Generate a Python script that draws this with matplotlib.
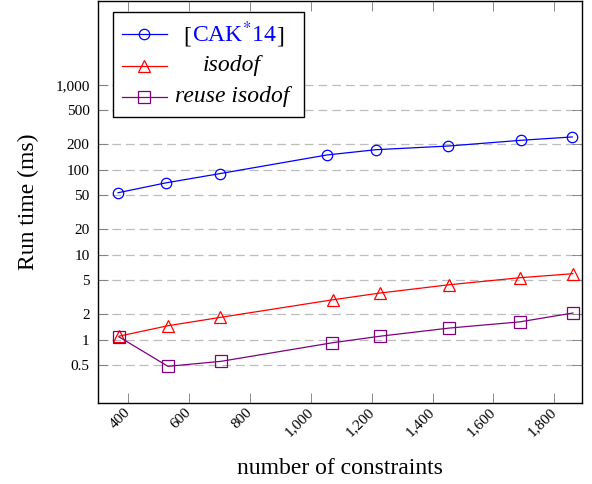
import matplotlib
matplotlib.use("Agg")
import matplotlib.pyplot as plt
from matplotlib.lines import Line2D
from matplotlib.patches import Rectangle
from matplotlib.ticker import FixedLocator, FuncFormatter, NullLocator
from matplotlib.offsetbox import TextArea, HPacker, AnnotationBbox

# data
constraints_cak = [366, 523, 701, 1052, 1214, 1452, 1691, 1859]
cak14 = [53.6, 70, 90, 149, 172, 190, 222, 243]

constraints_iso = [369, 530, 702, 1072, 1227, 1454, 1687, 1861]
isodof = [1.10, 1.46, 1.83, 2.95, 3.54, 4.43, 5.36, 5.98]

constraints_reuse = [369, 530, 705, 1070, 1228, 1454, 1686, 1861]
reuse_isodof = [1.08, 0.486, 0.557, 0.92, 1.10, 1.37, 1.62, 2.06]

yticks = [0.5, 1, 2, 5, 10, 20, 50, 100, 200, 500, 1000]
xticks = [400, 600, 800, 1000, 1200, 1400, 1600, 1800]

plt.rcParams['font.family'] = ['Liberation Serif', 'DejaVu Serif']
plt.rcParams['mathtext.fontset'] = 'stix'

W, H = 592, 484
fig = plt.figure(figsize=(W / 100, H / 100), dpi=100)
ax = fig.add_axes([98 / W, 1 - 403 / H, 484 / W, 402 / H])

styles = [
    dict(color='#0000ff', marker='o', ms=7.5),
    dict(color='#ff0000', marker='^', ms=8.5),
    dict(color='#800080', marker='s', ms=8),
]
series = [(constraints_cak, cak14), (constraints_iso, isodof),
          (constraints_reuse, reuse_isodof)]
for (xs, ys), st in zip(series, styles):
    ax.plot(xs, ys, lw=0.9, mfc='none', mew=0.9, **st)

ax.set_yscale('log')
ax.set_xlim(300, 1891)
ax.set_ylim(0.18, 10 ** 3.985)

ax.yaxis.set_major_locator(FixedLocator(yticks))
ax.yaxis.set_minor_locator(NullLocator())
ax.xaxis.set_major_locator(FixedLocator(xticks))


def fmt(v, pos):
    if v < 1:
        return '%g' % v
    return '{:,}'.format(int(round(v)))


ax.yaxis.set_major_formatter(FuncFormatter(fmt))
ax.xaxis.set_major_formatter(FuncFormatter(fmt))

ax.grid(axis='y', color='#bdbdbd', ls=(0, (7, 4)), lw=0.9)
ax.set_axisbelow(True)

ax.tick_params(axis='both', direction='in', length=7.5, width=0.6, color='#777777',
               labelsize=11, top=True, right=True)
ax.tick_params(axis='y', pad=6)
ax.tick_params(axis='x', pad=5)
for lab in ax.get_xticklabels():
    lab.set_rotation(45)
    lab.set_ha('right')
    lab.set_va('center')
    lab.set_rotation_mode('anchor')

for s in ax.spines.values():
    s.set_linewidth(1.0)
    s.set_color('black')

ax.set_xlabel('number of constraints', fontsize=17, labelpad=14)
ax.set_ylabel('Run time (ms)', fontsize=17, labelpad=12)


# legend drawn by hand, in figure pixels from the top-left
def fp(x, y):
    return x / W, 1 - y / H


lx0, ly0 = fp(112.7, 117.3)
fig.add_artist(Rectangle((lx0, ly0), (304.3 - 112.7) / W, (117.3 - 12.3) / H,
                         transform=fig.transFigure, facecolor='white',
                         edgecolor='black', lw=1.0, zorder=5))
row_y = [34.3, 66, 96.7]
labels = ['[CAK*14]', 'isodof', 'reuse isodof']
for i, (yy, st) in enumerate(zip(row_y, styles)):
    xa, ya = fp(121.7, yy)
    xb, _ = fp(166.7, yy)
    xm, _ = fp(144.2, yy)
    fig.add_artist(Line2D([xa, xb], [ya, ya], transform=fig.transFigure,
                          color=st['color'], lw=0.9, zorder=6))
    fig.add_artist(Line2D([xm], [ya], transform=fig.transFigure, color=st['color'],
                          marker=st['marker'], ms=st['ms'], mfc='none', mew=0.9,
                          zorder=6))
    if i == 0:
        parts = HPacker(children=[
            TextArea('[', textprops=dict(color='black', fontsize=17)),
            TextArea(r'CAK$^{*}$14', textprops=dict(color='#0000ff', fontsize=17)),
            TextArea(']', textprops=dict(color='black', fontsize=17)),
        ], align='baseline', pad=0, sep=0)
        ab = AnnotationBbox(parts, fp(234, yy), xycoords='figure fraction',
                            frameon=False, box_alignment=(0.5, 0.5), zorder=7)
        fig.add_artist(ab)
    else:
        tx, ty = fp(232, yy)
        fig.text(tx, ty, labels[i], fontsize=17, style='italic',
                 ha='center', va='center', zorder=7)

fig.savefig('out.png', dpi=100)
